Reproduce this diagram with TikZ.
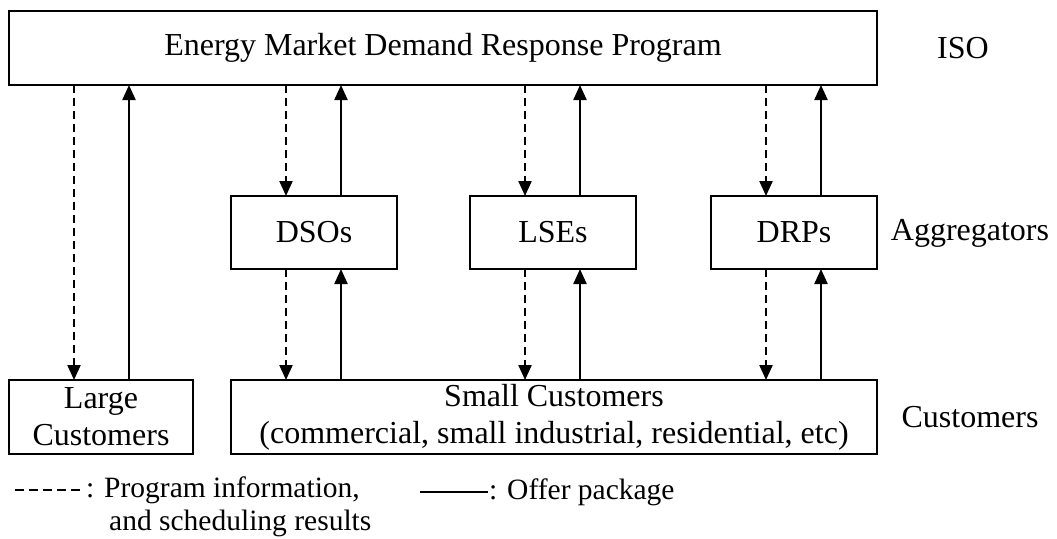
\documentclass[tikz,border=0pt]{standalone}
\usepackage{fontspec}
\setmainfont{Liberation Serif}
\usetikzlibrary{arrows.meta}
\begin{document}
\begin{tikzpicture}[x=1pt,y=-1pt,
  box/.style={draw=black, line width=2.5pt, fill=white, inner sep=0pt, outer sep=0pt,
              align=center, font=\fontsize{32}{37}\selectfont},
  lbl/.style={inner sep=0pt, font=\fontsize{32}{37}\selectfont},
  legtext/.style={inner sep=0pt, anchor=west, font=\fontsize{29.5}{34}\selectfont},
  offer/.style={line width=2.2pt, -{Triangle[length=15pt,width=13pt]}},
  info/.style={line width=2.2pt, dash pattern=on 8pt off 5pt, -{Triangle[length=15pt,width=13pt]}}
]
\useasboundingbox (0,0) rectangle (1057,538);

% ISO level
\node[box, minimum width=868pt, minimum height=74pt] (iso) at (443,48)
  {Energy Market Demand Response Program};

% aggregators
\node[box, minimum width=166pt, minimum height=73pt] (dso) at (314,232.5) {DSOs};
\node[box, minimum width=166pt, minimum height=73pt] (lse) at (553,232.5) {LSEs};
\node[box, minimum width=166pt, minimum height=73pt] (drp) at (794,232.5) {DRPs};

% customers
\node[box, minimum width=184pt, minimum height=74pt] (large) at (101,417)
  {Large\\[0pt]Customers};
\node[box, minimum width=646pt, minimum height=74pt] (small) at (554,417)
  {Small Customers\\[0pt](commercial, small industrial, residential, etc)};

% level labels
\node[lbl] (lISO) at (963,48) {ISO};
\node[lbl] (lAgg) at (970,233) {Aggregators};
\node[lbl] (lCus) at (970,417) {Customers};

% arrow columns
\coordinate (c1) at (74,0);
\coordinate (c2) at (129,0);
\coordinate (c3) at (286,0);
\coordinate (c4) at (341,0);
\coordinate (c5) at (525,0);
\coordinate (c6) at (580,0);
\coordinate (c7) at (766,0);
\coordinate (c8) at (821,0);

% large customers <-> ISO
\draw[info]  (iso.south -| c1) -- (large.north -| c1);
\draw[offer] (large.north -| c2) -- (iso.south -| c2);

% ISO <-> aggregators
\draw[info]  (iso.south -| c3) -- (dso.north -| c3);
\draw[offer] (dso.north -| c4) -- (iso.south -| c4);
\draw[info]  (iso.south -| c5) -- (lse.north -| c5);
\draw[offer] (lse.north -| c6) -- (iso.south -| c6);
\draw[info]  (iso.south -| c7) -- (drp.north -| c7);
\draw[offer] (drp.north -| c8) -- (iso.south -| c8);

% aggregators <-> small customers
\draw[info]  (dso.south -| c3) -- (small.north -| c3);
\draw[offer] (small.north -| c4) -- (dso.south -| c4);
\draw[info]  (lse.south -| c5) -- (small.north -| c5);
\draw[offer] (small.north -| c6) -- (lse.south -| c6);
\draw[info]  (drp.south -| c7) -- (small.north -| c7);
\draw[offer] (small.north -| c8) -- (drp.south -| c8);

% legend
\draw[line width=2pt, dash pattern=on 9pt off 5pt] (15,490) -- (82,490);
\node[legtext] (leg1) at (86,490) {: Program information,};
\node[legtext] (leg2) at (109,523) {and scheduling results};
\draw[line width=2pt] (420,492) -- (488,492);
\node[legtext] (leg3) at (489,492) {: Offer package};
\end{tikzpicture}
\end{document}
